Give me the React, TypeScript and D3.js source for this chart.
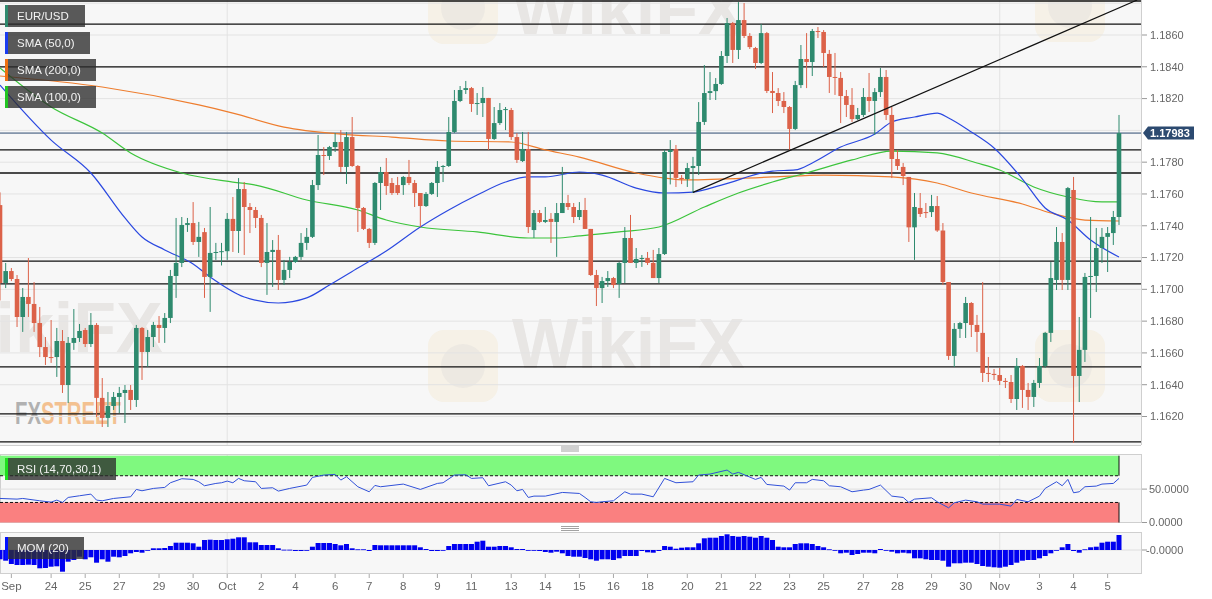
import React from "react";
import * as d3 from "d3";

// 4h EUR/USD candles, [open, high, low, close]
const ohlc: [number, number, number, number][] = [
  [1.1753, 1.1761, 1.1693, 1.1704], [1.1704, 1.17166, 1.17008, 1.17115], [1.17115, 1.17134, 1.17052, 1.17065],
  [1.17065, 1.1709, 1.16763, 1.16826], [1.16826, 1.17008, 1.16732, 1.16952], [1.16952, 1.17197, 1.16826, 1.16908],
  [1.16908, 1.17046, 1.16732, 1.16788], [1.16788, 1.16889, 1.16574, 1.16637], [1.16637, 1.167, 1.16524, 1.16574],
  [1.16574, 1.16807, 1.16537, 1.16568], [1.16574, 1.16757, 1.16449, 1.16675], [1.16675, 1.16744, 1.16348, 1.16398],
  [1.16398, 1.167, 1.16285, 1.16663], [1.16663, 1.16876, 1.16619, 1.16694], [1.16694, 1.16782, 1.16669, 1.16738],
  [1.16744, 1.16757, 1.16637, 1.16656], [1.16656, 1.16851, 1.16637, 1.16776], [1.16776, 1.16788, 1.16197, 1.16317],
  [1.16317, 1.16442, 1.16134, 1.16191], [1.16191, 1.16354, 1.16134, 1.16266], [1.16266, 1.16354, 1.16241, 1.16323],
  [1.16323, 1.16386, 1.16222, 1.16348], [1.16348, 1.16398, 1.16159, 1.16367], [1.16367, 1.16398, 1.16241, 1.16304],
  [1.16304, 1.16776, 1.1626, 1.16757], [1.16757, 1.16763, 1.1643, 1.16606], [1.16606, 1.16744, 1.16512, 1.167],
  [1.167, 1.16795, 1.16637, 1.16776], [1.16776, 1.16832, 1.16663, 1.16757], [1.16757, 1.16851, 1.16663, 1.1682],
  [1.1682, 1.17122, 1.16788, 1.17084], [1.17084, 1.17449, 1.16946, 1.17166], [1.17166, 1.17455, 1.1714, 1.17405],
  [1.17405, 1.17449, 1.17361, 1.17417], [1.17417, 1.17549, 1.17279, 1.17298], [1.17298, 1.17424, 1.17204, 1.1733],
  [1.1736, 1.17386, 1.16946, 1.17078], [1.17078, 1.17518, 1.16858, 1.17229], [1.17229, 1.17292, 1.17185, 1.17235],
  [1.17235, 1.17292, 1.1715, 1.1724], [1.1724, 1.1748, 1.17185, 1.17443], [1.17443, 1.17581, 1.17235, 1.17367],
  [1.17367, 1.177, 1.17229, 1.17631], [1.17631, 1.17675, 1.17216, 1.17518], [1.17518, 1.17543, 1.17354, 1.17499],
  [1.17499, 1.17518, 1.17386, 1.17449], [1.17449, 1.17468, 1.1714, 1.17166], [1.17166, 1.17417, 1.16965, 1.17235],
  [1.17235, 1.1731, 1.17015, 1.17248], [1.17248, 1.17342, 1.16996, 1.17059], [1.17059, 1.17185, 1.17027, 1.17122],
  [1.17122, 1.17204, 1.17071, 1.17172], [1.17172, 1.1721, 1.17166, 1.17204], [1.17204, 1.17354, 1.17185, 1.17292],
  [1.17292, 1.17386, 1.17248, 1.1733], [1.1733, 1.17688, 1.17323, 1.17656], [1.17656, 1.17971, 1.17625, 1.17845],
  [1.17845, 1.17895, 1.17719, 1.17839], [1.17839, 1.17902, 1.17814, 1.17895], [1.17895, 1.17983, 1.17864, 1.17927],
  [1.17927, 1.18002, 1.17738, 1.1777], [1.1777, 1.1799, 1.17663, 1.17958], [1.17958, 1.18084, 1.1777, 1.17776],
  [1.17776, 1.17782, 1.17361, 1.17512], [1.17512, 1.17518, 1.17373, 1.1738], [1.1738, 1.17386, 1.1726, 1.17292],
  [1.17292, 1.17675, 1.17279, 1.17669], [1.17669, 1.1777, 1.17499, 1.17738], [1.17738, 1.17826, 1.17594, 1.1765],
  [1.17669, 1.177, 1.17594, 1.17606], [1.17656, 1.17707, 1.17594, 1.17606], [1.17656, 1.17713, 1.17594, 1.17707],
  [1.17707, 1.17814, 1.17656, 1.17669], [1.17669, 1.17688, 1.17518, 1.17606], [1.17606, 1.17606, 1.17392, 1.17524],
  [1.17524, 1.17612, 1.17518, 1.176], [1.176, 1.17675, 1.17594, 1.17669], [1.17669, 1.17807, 1.17581, 1.1777],
  [1.1777, 1.17782, 1.17675, 1.17776], [1.17776, 1.18084, 1.1777, 1.1799], [1.1799, 1.18254, 1.17983, 1.18185],
  [1.18185, 1.18279, 1.18178, 1.18254], [1.18254, 1.18311, 1.18229, 1.18266], [1.18266, 1.18273, 1.18116, 1.18166],
  [1.18166, 1.18235, 1.18097, 1.18172], [1.18172, 1.18273, 1.18084, 1.18204], [1.18204, 1.18204, 1.17877, 1.17946],
  [1.17946, 1.18147, 1.1794, 1.18046], [1.18046, 1.18172, 1.18034, 1.18128], [1.18128, 1.18147, 1.18002, 1.18134],
  [1.18128, 1.18141, 1.1794, 1.17958], [1.17958, 1.17983, 1.17795, 1.17814], [1.17807, 1.1799, 1.17801, 1.17883],
  [1.17883, 1.1799, 1.17354, 1.17392], [1.17373, 1.17499, 1.17323, 1.1748], [1.1748, 1.17499, 1.17417, 1.17424],
  [1.17424, 1.17518, 1.17417, 1.17436], [1.17443, 1.1748, 1.17292, 1.17424], [1.17424, 1.17543, 1.17204, 1.1748],
  [1.1748, 1.1777, 1.1748, 1.17543], [1.17543, 1.17594, 1.17499, 1.17518], [1.17518, 1.17543, 1.17417, 1.17455],
  [1.17455, 1.17549, 1.17436, 1.17499], [1.17499, 1.17575, 1.1738, 1.1738], [1.1738, 1.1738, 1.17084, 1.1709],
  [1.1709, 1.17122, 1.16895, 1.17008], [1.17008, 1.17078, 1.16914, 1.17052], [1.17052, 1.17115, 1.17015, 1.17071],
  [1.17071, 1.17078, 1.17008, 1.17027], [1.17034, 1.17172, 1.16946, 1.17166], [1.17166, 1.17392, 1.1704, 1.17323],
  [1.17323, 1.17468, 1.17166, 1.17166], [1.17166, 1.1726, 1.17134, 1.17191], [1.17191, 1.17216, 1.17141, 1.17197],
  [1.17197, 1.17235, 1.17153, 1.17166], [1.17166, 1.17248, 1.17071, 1.17071], [1.17071, 1.1726, 1.1704, 1.17222],
  [1.17222, 1.17877, 1.17216, 1.17864], [1.17864, 1.17939, 1.1766, 1.17877], [1.17883, 1.17908, 1.17644, 1.17701],
  [1.17701, 1.17719, 1.17662, 1.17694], [1.17694, 1.17795, 1.17644, 1.17763], [1.17763, 1.17833, 1.17606, 1.17776],
  [1.17776, 1.18178, 1.17719, 1.18053], [1.18053, 1.18411, 1.18034, 1.18235], [1.18235, 1.18367, 1.18191, 1.18247],
  [1.18247, 1.18329, 1.18191, 1.18292], [1.18292, 1.18499, 1.18286, 1.18468], [1.18468, 1.18707, 1.18424, 1.18675],
  [1.18675, 1.18682, 1.18424, 1.18506], [1.18506, 1.18807, 1.18449, 1.18694], [1.18694, 1.18801, 1.18581, 1.18594],
  [1.18594, 1.18612, 1.18512, 1.18524], [1.18518, 1.18525, 1.18386, 1.18424], [1.18424, 1.18669, 1.18417, 1.18612],
  [1.18612, 1.18619, 1.18235, 1.18248], [1.18248, 1.18367, 1.18109, 1.18235], [1.18235, 1.18266, 1.18153, 1.18185],
  [1.18185, 1.18241, 1.18109, 1.18147], [1.18147, 1.18153, 1.17877, 1.18009], [1.18009, 1.18311, 1.18002, 1.18285],
  [1.18285, 1.18537, 1.18266, 1.18449], [1.18449, 1.18612, 1.18266, 1.1843], [1.1843, 1.18638, 1.18342, 1.18625],
  [1.18625, 1.1865, 1.18581, 1.18619], [1.18619, 1.18631, 1.18399, 1.18487], [1.18481, 1.18506, 1.18235, 1.18336],
  [1.18336, 1.18487, 1.18223, 1.1833], [1.1833, 1.18367, 1.18046, 1.18216], [1.18216, 1.18254, 1.18084, 1.1816],
  [1.1816, 1.18266, 1.18053, 1.18071], [1.18071, 1.18141, 1.18065, 1.18097], [1.18097, 1.18266, 1.18084, 1.1821],
  [1.1821, 1.18361, 1.18116, 1.18185], [1.18185, 1.18266, 1.17971, 1.18241], [1.18241, 1.18392, 1.1821, 1.18336],
  [1.18336, 1.1838, 1.18065, 1.18097], [1.18097, 1.18147, 1.177, 1.1782], [1.1782, 1.17877, 1.17751, 1.17776],
  [1.1777, 1.17795, 1.17656, 1.17713], [1.17707, 1.17707, 1.17298, 1.1739], [1.1739, 1.17606, 1.17185, 1.17518],
  [1.17512, 1.17606, 1.17455, 1.17474], [1.17486, 1.17543, 1.17449, 1.1748], [1.17486, 1.17594, 1.17455, 1.17524],
  [1.17524, 1.17587, 1.17361, 1.1737], [1.1737, 1.17417, 1.17027, 1.17046], [1.17046, 1.17046, 1.16556, 1.16581],
  [1.16581, 1.16788, 1.16512, 1.16751], [1.16751, 1.16795, 1.16694, 1.16788], [1.16788, 1.16952, 1.16694, 1.16914],
  [1.16914, 1.1692, 1.167, 1.16776], [1.16776, 1.16839, 1.16606, 1.16732], [1.16726, 1.17046, 1.16417, 1.16474],
  [1.16474, 1.16574, 1.16417, 1.16468], [1.16468, 1.16499, 1.1643, 1.16461], [1.16461, 1.16505, 1.16398, 1.16424],
  [1.16424, 1.16442, 1.16379, 1.16417], [1.16417, 1.16461, 1.16285, 1.1631], [1.1631, 1.16568, 1.16241, 1.16518],
  [1.16518, 1.16524, 1.16254, 1.16367], [1.16367, 1.16411, 1.16241, 1.16323], [1.16323, 1.1643, 1.1626, 1.16411],
  [1.16411, 1.16568, 1.1638, 1.16518], [1.16518, 1.16732, 1.16505, 1.16726], [1.16726, 1.17172, 1.16669, 1.17071],
  [1.17059, 1.17392, 1.16996, 1.17298], [1.17298, 1.17354, 1.16996, 1.17059], [1.17059, 1.17644, 1.16996, 1.17637],
  [1.17625, 1.17707, 1.16034, 1.16455], [1.16455, 1.16826, 1.16291, 1.16619], [1.16619, 1.17103, 1.16543, 1.17078],
  [1.17078, 1.17455, 1.1682, 1.17084], [1.17084, 1.17386, 1.16983, 1.1726], [1.1726, 1.17386, 1.17166, 1.1733],
  [1.1733, 1.17392, 1.17109, 1.17354], [1.17354, 1.17493, 1.17279, 1.17455], [1.17455, 1.18097, 1.17405, 1.17983],
];

// moving averages, [candle index, price]
const sma50: [number, number][] = [
  [0, 1.18285], [9, 1.17939], [16, 1.17732], [22, 1.17449], [25, 1.17329], [29, 1.17248], [34, 1.1716],
  [37, 1.17078], [43, 1.16952], [49, 1.16914], [54, 1.16946], [58, 1.17027], [63, 1.17134], [68, 1.17241],
  [74, 1.17392], [79, 1.17499], [84, 1.17593], [89, 1.17675], [93, 1.17707], [96, 1.17707], [102, 1.17738],
  [106, 1.17719], [112, 1.17637], [117, 1.17606], [122, 1.17612], [127, 1.17656], [136, 1.17744], [140, 1.17751],
  [143, 1.17795], [148, 1.17895], [154, 1.17977], [157, 1.18053], [161, 1.18084], [165, 1.18109], [167, 1.18078],
  [171, 1.1799], [175, 1.17889], [180, 1.17694], [184, 1.17512], [188, 1.17436], [192, 1.1731], [197, 1.17203],
];
const sma100: [number, number][] = [
  [0, 1.18392], [9, 1.18147], [18, 1.17983], [23, 1.17858], [32, 1.17732], [41, 1.17675], [45, 1.17656],
  [54, 1.17562], [63, 1.17499], [68, 1.17436], [74, 1.17392], [84, 1.17361], [93, 1.17323], [98, 1.17323],
  [102, 1.17336], [109, 1.17361], [116, 1.17392], [124, 1.17518], [130, 1.17606], [136, 1.17675], [142, 1.17732],
  [150, 1.17814], [157, 1.1787], [165, 1.17858], [172, 1.17795], [176, 1.17751], [182, 1.17644], [188, 1.17581],
  [194, 1.1755], [197, 1.1755],
];
const sma200: [number, number][] = [
  [0, 1.18342], [18, 1.18273], [35, 1.1816], [41, 1.18109], [50, 1.18021], [60, 1.17977], [69, 1.17958],
  [79, 1.17933], [90, 1.17927], [96, 1.17877], [102, 1.17832], [112, 1.17732], [117, 1.177], [121, 1.17688],
  [136, 1.17707], [145, 1.17719], [157, 1.17707], [165, 1.17669], [171, 1.17606], [180, 1.17537], [185, 1.1748],
  [191, 1.17436], [197, 1.1743],
];

// RSI (14), [candle index, value]
const rsi: [number, number][] = [
  [0, 36], [3, 35], [4, 36], [7, 32.5], [9, 30.5], [10, 33.5], [11, 30], [12, 37.5], [14, 40], [16, 42.5],
  [17, 33.5], [18, 32.5], [20, 36], [23, 38.5], [24, 49.5], [25, 47.5], [27, 51], [29, 52.5], [30, 59.5],
  [32, 65.5], [34, 64.5], [35, 61], [36, 55], [38, 58.5], [39, 59.5], [40, 62], [41, 59.5], [42, 66], [43, 62.5],
  [45, 61], [46, 51], [48, 52], [49, 47], [51, 51], [54, 56], [55, 67.5], [57, 71], [59, 72], [60, 63.5],
  [61, 68.5], [63, 53.5], [65, 46], [66, 55.5], [67, 53.5], [71, 57.5], [74, 49.5], [77, 58.5], [78, 59.5],
  [80, 71], [82, 71.5], [83, 66], [85, 67], [86, 55], [89, 61], [90, 56], [91, 47.5], [92, 49.5], [93, 37.5],
  [94, 39.5], [96, 39.5], [99, 45], [102, 43.5], [103, 37.5], [104, 31], [105, 30], [106, 31], [108, 32.5],
  [110, 46], [111, 42.5], [113, 42.5], [115, 38.5], [117, 66], [119, 59.5], [122, 61], [123, 71], [125, 72.5],
  [128, 78.5], [129, 72.5], [130, 75], [133, 64.5], [134, 67.5], [135, 57], [138, 54.5], [139, 48.5],
  [140, 59.5], [142, 59.5], [143, 64.5], [145, 62.5], [146, 55], [148, 53.5], [150, 46], [152, 48.5],
  [153, 49.5], [155, 56], [157, 39.5], [159, 37.5], [160, 30], [161, 35], [164, 37], [165, 31], [167, 22],
  [168, 29.5], [170, 33.5], [172, 31], [173, 27.5], [176, 27.5], [178, 24.5], [179, 34.5], [181, 31],
  [183, 39.5], [184, 51], [186, 61], [187, 55], [188, 64.5], [189, 44.5], [190, 46], [191, 53.5], [193, 54.5],
  [194, 57.5], [196, 58.5], [197, 66],
];

// MOM (20) per candle, in pips
const mom: number[] = [
  -93, -107, -140, -150, -150, -147, -150, -183, -180, -167, -163, -217, -117, -100, -67, -93, -73, -127, -93,
  -117, -67, -73, -60, -33, -20, -27, -3, 17, 17, 20, 40, 73, 73, 73, 67, 33, 100, 103, 100, 100, 107, 113, 127,
  127, 77, 77, 50, 50, 50, 17, 3, 3, -10, -10, 0, 33, 70, 70, 70, 60, 47, 60, 17, 7, 7, -10, 50, 47, 47, 47, 47,
  47, 47, 47, 27, 10, -10, -10, 0, 40, 60, 60, 60, 60, 83, 93, 33, 33, 40, 40, 27, 10, 10, -7, -7, -10, -20, -27,
  -17, -33, -60, -67, -67, -80, -93, -107, -93, -93, -100, -83, -60, -60, -60, -10, -23, -27, -10, 40, 33, 13,
  23, 27, 27, 67, 117, 123, 123, 140, 157, 140, 133, 140, 133, 123, 140, 123, 100, 33, 27, 27, 60, 67, 67, 60,
  40, 27, 7, 0, -33, -27, -50, -40, -27, -27, -33, 10, 0, -17, -33, -27, -33, -83, -83, -93, -100, -100, -107,
  -167, -133, -133, -127, -127, -140, -160, -167, -173, -177, -167, -150, -127, -107, -100, -100, -83, -60, -33,
  0, 27, 60, -10, -27, 7, 27, 33, 73, 83, 83, 150,
];

const levels = [1.18814, 1.18669, 1.18399, 1.17877, 1.17732, 1.17178, 1.17034, 1.16512, 1.16216, 1.1604];
const trend: [number, number][] = [[122, 1.1761], [200.2, 1.1882]];
const lastPrice = 1.17983;
const priceTicks = [1.162, 1.164, 1.166, 1.168, 1.17, 1.172, 1.174, 1.176, 1.178, 1.18, 1.182, 1.184, 1.186];
const gridPrices = [...priceTicks, 1.188];
const dayTicks = [2, 9, 15, 21, 28, 34, 40, 46, 52, 59, 65, 71, 77, 83, 90, 96, 102, 108, 114, 121, 127, 133, 139, 145, 152, 158, 164, 170, 176, 183, 189, 195];
const dayLabels = ["Sep", "24", "25", "27", "29", "30", "Oct", "2", "4", "6", "7", "8", "9", "11", "13", "14", "15", "16", "18", "20", "21", "22", "23", "25", "27", "28", "29", "30", "Nov", "3", "4", "5"];
const monthStarts = [40, 176];

const FONT = "'Liberation Sans', Arial, sans-serif";
const UP = "#2e8a6e";
const DOWN = "#dc6249";
const RIGHT = 1141;

function Legend({ x, y, w, label, color }: { x: number; y: number; w: number; label: string; color: string }) {
  return (
    <g>
      <rect x={x} y={y} width={w} height={22} fill="rgba(45,45,45,0.78)" />
      <rect x={x} y={y} width={3} height={22} fill={color} />
      <text x={x + 12} y={y + 15} fill="#f2f2f2" fontSize={11.5} fontFamily={FONT}>{label}</text>
    </g>
  );
}

function Handle({ y }: { y: number }) {
  return (
    <g stroke="#8a8a8a" strokeWidth={0.8}>
      {[0, 2, 4].map(d => <line key={d} x1={561} x2={579} y1={y + d} y2={y + d} />)}
    </g>
  );
}

export default function App() {
  const n = ohlc.length;
  const x = d3.scaleLinear().domain([0, n - 1]).range([0, 1119]);
  const yP = d3.scaleLinear().domain([1.162, 1.186]).range([416.5, 35]);
  const yR = d3.scaleLinear().domain([0, 100]).range([522.5, 455.7]);
  const yM = d3.scaleLinear().domain([-200, 200]).range([570, 530]);

  const smaLine = d3.line<[number, number]>().x(d => x(d[0])).y(d => yP(d[1])).curve(d3.curveMonotoneX);
  const rsiLine = d3.line<[number, number]>().x(d => x(d[0])).y(d => yR(d[1]));
  const trendLine = d3.line<[number, number]>().x(d => x(d[0])).y(d => yP(d[1]));
  const xEnd = x(n - 1);

  return (
    <svg width={1212} height={599} style={{ position: "absolute", left: 0, top: 0, background: "#fff" }} fontFamily={FONT}>
      <defs>
        <clipPath id="pricePane"><rect x={0} y={0} width={RIGHT} height={445} /></clipPath>
      </defs>

      {/* pane backgrounds */}
      <rect x={0} y={0} width={RIGHT} height={445} fill="#f7f7f7" />
      <line x1={RIGHT + 0.5} x2={RIGHT + 0.5} y1={0} y2={445} stroke="#cfcfcf" />
      <line x1={0} x2={RIGHT} y1={445.5} y2={445.5} stroke="#cfcfcf" />
      <rect x={0.5} y={454.5} width={RIGHT} height={68} fill="#f7f7f7" stroke="#cfcfcf" />
      <rect x={0.5} y={532.5} width={RIGHT} height={41} fill="#f7f7f7" stroke="#cfcfcf" />

      {/* watermarks */}
      <g clipPath="url(#pricePane)">
        <g opacity={0.5}>
          {[[428, 330], [428, -28], [1035, 330], [1035, -30]].map(([lx, ly], i) => (
            <g key={i}>
              <rect x={lx} y={ly} width={70} height={72} rx={16} fill="#f3e6c8" opacity={0.7} />
              <circle cx={lx + 35} cy={ly + 36} r={22} fill="#d8d2ca" opacity={0.6} />
            </g>
          ))}
        </g>
        <g fill="#8c7d72" opacity={0.14} fontWeight="bold" fontSize={70}>
          <text x={512} y={368}>WikiFX</text>
          <text x={512} y={34}>WikiFX</text>
          <text x={-70} y={352}>WikiFX</text>
        </g>
        <text x={15} y={424} fontSize={32} fontWeight="bold" textLength={106} lengthAdjust="spacingAndGlyphs" opacity={0.75}>
          <tspan fill="#9a9a9a">FX</tspan><tspan fill="#f2b070">STREET</tspan>
        </text>
      </g>

      {/* price pane grid */}
      <g stroke="#e3e3e3" strokeWidth={1}>
        {gridPrices.map(p => <line key={p} x1={0} x2={RIGHT} y1={yP(p)} y2={yP(p)} />)}
        {monthStarts.map(i => <line key={i} x1={x(i)} x2={x(i)} y1={0} y2={445} />)}
        {monthStarts.map(i => <line key={"r" + i} x1={x(i)} x2={x(i)} y1={455} y2={522} />)}
        {monthStarts.map(i => <line key={"m" + i} x1={x(i)} x2={x(i)} y1={533} y2={573} />)}
      </g>

      <g clipPath="url(#pricePane)">
        {/* horizontal levels */}
        {levels.map(p => (
          <line key={p} x1={0} x2={RIGHT} y1={yP(p)} y2={yP(p)} stroke="#111" strokeWidth={1.3} />
        ))}
        <line x1={0} x2={RIGHT} y1={yP(lastPrice)} y2={yP(lastPrice)} stroke="#2c4a70" strokeWidth={1} />

        {/* moving averages */}
        <path d={smaLine(sma200) ?? ""} fill="none" stroke="#ee7d2e" strokeWidth={1.2} />
        <path d={smaLine(sma100) ?? ""} fill="none" stroke="#3cc43c" strokeWidth={1.2} />
        <path d={smaLine(sma50) ?? ""} fill="none" stroke="#2a48e0" strokeWidth={1.2} />

        {/* candles */}
        {ohlc.map(([o, h, l, c], i) => {
          const col = c >= o ? UP : DOWN;
          const top = yP(Math.max(o, c));
          const bot = yP(Math.min(o, c));
          return (
            <g key={i}>
              <line x1={x(i)} x2={x(i)} y1={yP(h)} y2={yP(l)} stroke={col} strokeWidth={1} />
              <rect x={x(i) - 2.3} y={top} width={4.6} height={Math.max(1, bot - top)} fill={col} />
            </g>
          );
        })}

        <path d={trendLine(trend) ?? ""} fill="none" stroke="#111" strokeWidth={1.2} />
      </g>

      {/* price axis */}
      <g fontSize={11} fill="#666">
        {priceTicks.filter(p => Math.abs(yP(p) - yP(lastPrice)) > 9).map(p => (
          <g key={p}>
            <line x1={RIGHT + 1} x2={RIGHT + 6} y1={yP(p)} y2={yP(p)} stroke="#999" />
            <text x={1150} y={yP(p)} dy="0.35em">{d3.format(".4f")(p)}</text>
          </g>
        ))}
      </g>
      <path
        d={`M${RIGHT + 2},${yP(lastPrice)} L${RIGHT + 7},${yP(lastPrice) - 6.5} H1194 V${yP(lastPrice) + 6.5} H${RIGHT + 7} Z`}
        fill="#2c4a70"
      />
      <text x={1150} y={yP(lastPrice)} dy="0.36em" fill="#fff" fontSize={11} fontWeight="bold">
        {d3.format(".5f")(lastPrice)}
      </text>

      <Legend x={5} y={5} w={80} label="EUR/USD" color="#2f8a6e" />
      <Legend x={5} y={32} w={85} label="SMA (50,0)" color="#1a3cf0" />
      <Legend x={5} y={59} w={91} label="SMA (200,0)" color="#ee7010" />
      <Legend x={5} y={86} w={91} label="SMA (100,0)" color="#22c422" />

      <Handle y={447} />

      {/* RSI pane */}
      <line x1={0} x2={RIGHT} y1={yR(50)} y2={yR(50)} stroke="#dedede" />
      <rect x={0} y={yR(100)} width={xEnd} height={yR(70) - yR(100)} fill="#7ff97f" />
      <rect x={0} y={yR(30)} width={xEnd} height={yR(0) - yR(30)} fill="#fa8080" />
      <g stroke="#111" strokeWidth={1}>
        <line x1={0} x2={xEnd} y1={yR(70)} y2={yR(70)} strokeDasharray="3,2" />
        <line x1={0} x2={xEnd} y1={yR(30)} y2={yR(30)} strokeDasharray="3,2" />
        <line x1={xEnd} x2={xEnd} y1={yR(100)} y2={yR(70)} />
        <line x1={xEnd} x2={xEnd} y1={yR(30)} y2={yR(0)} />
      </g>
      <path d={rsiLine(rsi) ?? ""} fill="none" stroke="#3050d8" strokeWidth={1} />
      <g fontSize={11} fill="#666">
        {[50, 0].map(v => (
          <g key={v}>
            <line x1={RIGHT + 1} x2={RIGHT + 6} y1={yR(v)} y2={yR(v)} stroke="#999" />
            <text x={1149} y={yR(v)} dy="0.35em">{d3.format(".4f")(v)}</text>
          </g>
        ))}
      </g>
      <Legend x={5} y={458} w={111} label="RSI (14,70,30,1)" color="#1ee01e" />

      <Handle y={526.5} />

      {/* MOM pane */}
      <line x1={0} x2={RIGHT} y1={yM(0)} y2={yM(0)} stroke="#dedede" />
      {mom.map((v, i) => (
        <rect
          key={i}
          x={x(i) - 2.5}
          y={Math.min(yM(v), yM(0))}
          width={5}
          height={Math.max(0.8, Math.abs(yM(v) - yM(0)))}
          fill="#0000f0"
        />
      ))}
      <g fontSize={11} fill="#666">
        <line x1={RIGHT + 1} x2={RIGHT + 6} y1={yM(0)} y2={yM(0)} stroke="#999" />
        <text x={1146} y={yM(0)} dy="0.35em">-0.0000</text>
      </g>
      <Legend x={5} y={537} w={79} label="MOM (20)" color="#0010ff" />

      {/* date axis */}
      <g fontSize={11.5} fill="#666" textAnchor="middle">
        {dayTicks.map((i, k) => (
          <g key={i}>
            <line x1={x(i)} x2={x(i)} y1={574} y2={578} stroke="#aaa" />
            <text x={x(i)} y={590}>{dayLabels[k]}</text>
          </g>
        ))}
      </g>
    </svg>
  );
}
